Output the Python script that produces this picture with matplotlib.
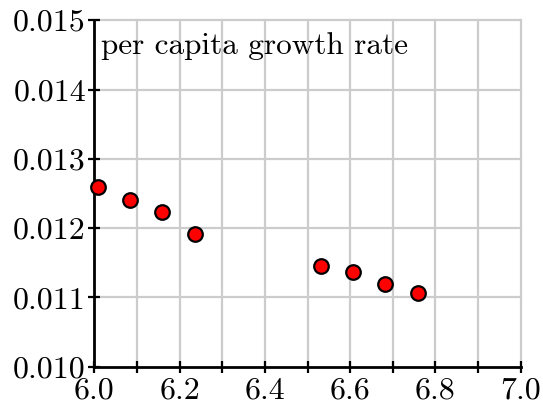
import matplotlib
matplotlib.use("Agg")
import matplotlib.pyplot as plt
import numpy as np

plt.rcParams['font.family'] = 'serif'
plt.rcParams['font.serif'] = ['cmr10']
plt.rcParams['axes.formatter.use_mathtext'] = True

# data
x_vals = [6.008, 6.084, 6.159, 6.236, 6.532, 6.607, 6.681, 6.758]
growth = [0.01260, 0.01241, 0.01224, 0.01191, 0.01146, 0.01136, 0.01120, 0.01106]

x_ticks = [6.0, 6.2, 6.4, 6.6, 6.8, 7.0]
x_labels = ['6.0', '6.2', '6.4', '6.6', '6.8', '7.0']
y_ticks = [0.010, 0.011, 0.012, 0.013, 0.014, 0.015]
y_labels = ['0.010', '0.011', '0.012', '0.013', '0.014', '0.015']

fig = plt.figure(figsize=(5.43, 4.04), dpi=100)
ax = fig.add_axes([0.1737, 0.0923, 0.959 - 0.1737, 0.9498 - 0.0923])

ax.set_xlim(6.0, 7.0)
ax.set_ylim(0.010, 0.015)

# light grid every 0.1 / 0.001
for gx in np.arange(6.1, 7.01, 0.1):
    ax.axvline(gx, color='#cccccc', linewidth=1.6, zorder=0, clip_on=False)
for gy in y_ticks[1:]:
    ax.axhline(gy, color='#cccccc', linewidth=1.6, zorder=0, clip_on=False)

ax.scatter(x_vals, growth, s=110, facecolor='#ff0000', edgecolor='black',
           linewidth=1.6, zorder=5, clip_on=False)

for side in ['top', 'right']:
    ax.spines[side].set_visible(False)
for side in ['left', 'bottom']:
    ax.spines[side].set_linewidth(2)
    ax.spines[side].set_zorder(4)

ax.set_xticks(x_ticks)
ax.set_xticklabels(x_labels)
ax.set_xticks(np.arange(6.1, 7.0, 0.2), minor=True)
ax.set_yticks(y_ticks)
ax.set_yticklabels(y_labels)

ax.tick_params(axis='both', which='both', direction='inout', length=8, width=1.6,
               labelsize=23, color='black')
ax.tick_params(axis='x', pad=3.5)
ax.tick_params(axis='y', pad=2)

ax.text(0.015, 0.925, 'per capita growth rate', transform=ax.transAxes,
        fontsize=22.5, ha='left', va='center')

fig.savefig('out.png', dpi=100)
